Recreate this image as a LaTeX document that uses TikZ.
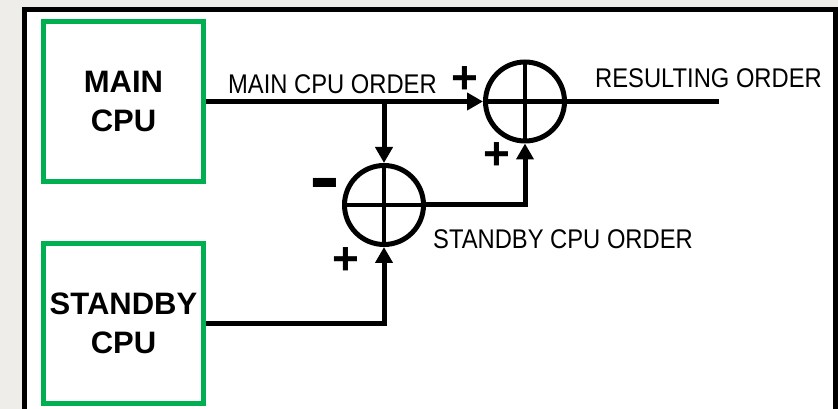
\documentclass[tikz,border=0pt]{standalone}
\usepackage{fontspec}
\setmainfont{Liberation Sans}
\newfontfamily\narrowfont{Liberation Sans}[FakeStretch=0.88]
\usetikzlibrary{arrows.meta,positioning,calc}
\definecolor{cpugreen}{RGB}{0,176,80}
\definecolor{bggray}{RGB}{238,237,234}

\begin{document}
\begin{tikzpicture}[x=1pt, y=1pt,
    cpu/.style={
        draw=cpugreen, line width=5pt, fill=white,
        minimum width=160pt, minimum height=160pt, inner sep=0pt,
        font=\fontsize{31}{39}\selectfont\bfseries, align=center
    },
    sum/.style={
        circle, draw, line width=5pt, minimum size=79pt, inner sep=0pt,
        path picture={\draw[line width=4.5pt]
            (path picture bounding box.north) -- (path picture bounding box.south)
            (path picture bounding box.west) -- (path picture bounding box.east);}
    },
    arr/.style={-{Triangle[length=16pt, width=17pt]}, line width=5pt},
    wire/.style={line width=5pt},
    sglabel/.style={font=\fontsize{27}{32}\selectfont\narrowfont,
        anchor=base west, inner sep=0pt},
    sgn/.style={font=\fontsize{46}{50}\selectfont\bfseries, inner sep=0pt}
]
    % Frame
    \clip (0,0) rectangle (838,409);
    \fill[bggray] (0,0) rectangle (838,409);
    \draw[line width=5pt, fill=white] (24.5,-20) rectangle (835.5,399.5);

    % CPU boxes
    \node[cpu] (maincpu) at (123.5,307.5) {MAIN\\CPU};
    \node[cpu] (stbycpu) at (123.5,85.5) {STANDBY\\CPU};

    % Summing points
    \node[sum] (sumtop) at (525,307.5) {};
    \node[sum] (sumbot) at (384,204) {};
    \coordinate (split) at (sumbot.north |- maincpu.east);
    \coordinate (out) at (719,307.5);

    % Connectors
    \draw[arr] (maincpu.east) -- (sumtop.west);
    \draw[arr] (split) -- (sumbot.north);
    \draw[arr] (sumbot.east) -| (sumtop.south);
    \draw[arr] (stbycpu.east) -| (sumbot.south);
    \draw[wire] (sumtop.east) -- (out);

    % Signal names
    \node[sglabel] (lblmain) at (228,315) {MAIN CPU ORDER};
    \node[sglabel] (lblres) at (595,321) {RESULTING ORDER};
    \node[sglabel] (lblstby) at (433,160) {STANDBY CPU ORDER};

    % Signs at the summing points
    \node[sgn] (ptop) at (465,328.5) {+};
    \node[sgn] (pmid) at (497,252.5) {+};
    \node[sgn, anchor=base] (mbot) at (325,198.5) {\scalebox{1}[1.8]{\symbol{"2212}}};
    \node[sgn] (pbot) at (346,147.5) {+};
\end{tikzpicture}
\end{document}
